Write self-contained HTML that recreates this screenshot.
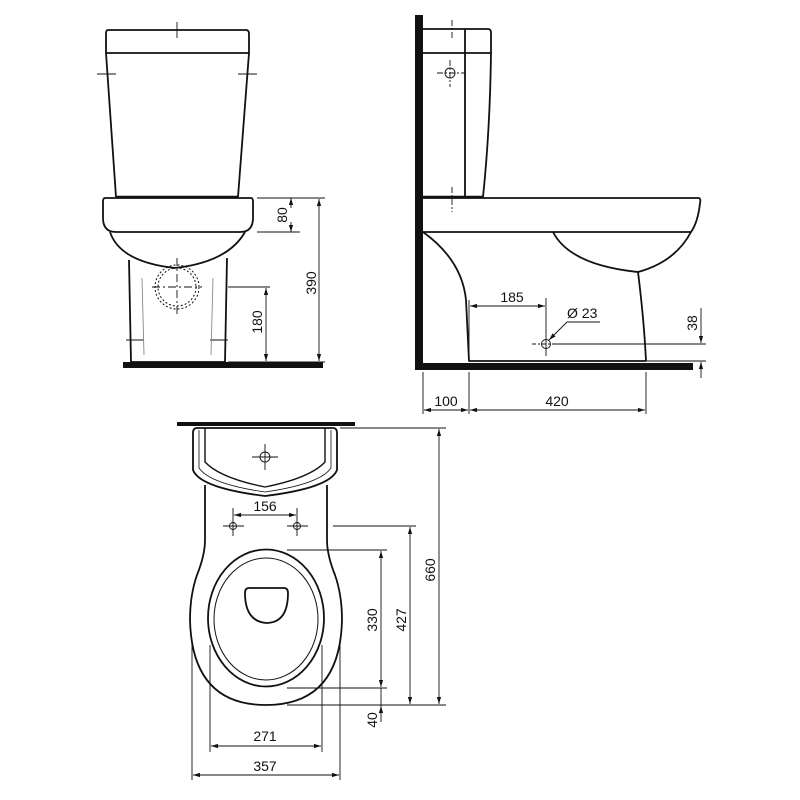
<!DOCTYPE html>
<html><head><meta charset="utf-8"><style>
html,body{margin:0;padding:0;background:#fff;}
svg{display:block}
text{font-family:"Liberation Sans",sans-serif;font-size:14px;fill:#111}
</style></head><body>
<svg width="800" height="800" viewBox="0 0 800 800" xmlns="http://www.w3.org/2000/svg">
<defs>
<marker id="a" viewBox="0 0 10 10" refX="10" refY="5" markerWidth="8" markerHeight="8" orient="auto-start-reverse"><path d="M0,2 L10,5 L0,8 z" fill="#111"/></marker>
</defs>
<g fill="none" stroke="#111" stroke-width="1.8" stroke-linejoin="round">
<!-- FRONT VIEW -->
<path d="M108,30 H246 Q249,30 249,34 V53 H106 V34 Q106,30 108,30 z"/>
<path d="M106,53 L116,197 M249,53 L238,197"/>
<line x1="116" y1="197" x2="238" y2="197" stroke-width="2.5"/>
<path d="M105,198 H251 Q253,198 253,202 V218 Q253,232 240,232 H116 Q103,232 103,218 V202 Q103,198 105,198 z"/>
<path d="M110,232 Q120,262 175,268 Q228,262 245,232"/>
<path d="M129,260 L131,362 M227,258 L225,362"/>
<line x1="131" y1="362" x2="225" y2="362"/>
</g>
<rect x="123" y="362" width="200" height="6" fill="#111"/>
<g fill="none" stroke="#111" stroke-width="1" stroke-dasharray="2,2">
<circle cx="177" cy="287" r="19"/><circle cx="177" cy="287" r="22"/>
</g>
<g stroke="#111" stroke-width="0.9" fill="none">
<path d="M177,258 V315 M152,287 H202" stroke-dasharray="8,3,2,3"/>
<path d="M177,22 V38 M97,74 H116 M238,74 H257 M126,340 H144 M210,340 H228"/>
<path d="M142,278 L144,355 M213,278 L211,355" stroke="#888"/>
<path d="M257,198 H325 M257,232 H300 M228,287 H270 M228,362 H325"/>
<line x1="291" y1="208" x2="291" y2="198" marker-end="url(#a)"/>
<line x1="291" y1="222" x2="291" y2="232" marker-end="url(#a)"/>
<line x1="319" y1="199" x2="319" y2="361" marker-start="url(#a)" marker-end="url(#a)"/>
<line x1="266" y1="288" x2="266" y2="361" marker-start="url(#a)" marker-end="url(#a)"/>
</g>
<text transform="translate(287,215) rotate(-90)" text-anchor="middle">80</text>
<text transform="translate(316,283) rotate(-90)" text-anchor="middle">390</text>
<text transform="translate(262,322) rotate(-90)" text-anchor="middle">180</text>

<!-- SIDE VIEW -->
<rect x="415" y="15" width="8" height="355" fill="#111"/>
<rect x="415" y="363" width="278" height="7" fill="#111"/>
<g fill="none" stroke="#111" stroke-width="1.8" stroke-linejoin="round">
<path d="M423,29 H488 Q491,29 491,33 V53 H423"/>
<path d="M491,53 Q490,130 483,197 M465,29 V197"/>
<line x1="423" y1="197" x2="483" y2="197" stroke-width="2.5"/>
<path d="M423,198 H699 Q701,199 700,203 Q698,222 691,232 H423"/>
<path d="M553,232 Q570,265 638,272 Q675,262 691,232"/>
<path d="M638,272 Q644,320 646,361"/>
<path d="M423,232 Q462,260 466,300 Q468,340 469,361 H646"/>
</g>
<g stroke="#111" stroke-width="0.9" fill="none">
<circle cx="450" cy="73" r="5"/>
<path d="M437,73 H465 M450,60 V87 M452,20 V38 M452,187 V212" stroke-dasharray="6,2,2,2"/>
<circle cx="546" cy="344" r="4.5"/>
<path d="M532,344 H556" stroke-dasharray="4,2,2,2"/>
<path d="M546,298 V356 M469,300 V361"/>
<path d="M556,344 H706 M646,361 H706"/>
<line x1="470" y1="306" x2="545" y2="306" marker-start="url(#a)" marker-end="url(#a)"/>
<path d="M567,322 H600"/>
<line x1="567" y1="322" x2="549" y2="340" marker-end="url(#a)"/>
<line x1="701" y1="308" x2="701" y2="343" marker-end="url(#a)"/>
<line x1="701" y1="378" x2="701" y2="362" marker-end="url(#a)"/>
<path d="M423,372 V414 M469,372 V414 M646,372 V414"/>
<line x1="424" y1="410" x2="468" y2="410" marker-start="url(#a)" marker-end="url(#a)"/>
<line x1="470" y1="410" x2="645" y2="410" marker-start="url(#a)" marker-end="url(#a)"/>
</g>
<text x="512" y="302" text-anchor="middle">185</text>
<text x="567" y="318">Ø 23</text>
<text transform="translate(697,323) rotate(-90)" text-anchor="middle">38</text>
<text x="446" y="406" text-anchor="middle">100</text>
<text x="557" y="406" text-anchor="middle">420</text>

<!-- TOP VIEW -->
<rect x="177" y="422" width="178" height="4" fill="#111"/>
<g fill="none" stroke="#111" stroke-width="1.8" stroke-linejoin="round">
<path d="M197,428 H333 Q337,428 337,433 V470 Q330,488 265,496 Q200,488 193,470 V433 Q193,428 197,428 z"/>
<path d="M199,430 V468 Q210,484 265,492 Q320,484 331,468 V430" stroke-width="0.8"/>
<path d="M205,428 V462 Q220,478 265,487 Q310,478 325,462 V428" stroke-width="1.4"/>
<path d="M205,485 V540 Q205,555 197,575 Q190,595 190,620 Q192,705 266,705 Q340,705 342,620 Q342,595 335,575 Q327,555 327,540 V485"/>
<ellipse cx="266" cy="618" rx="58" ry="68.5"/>
<ellipse cx="266" cy="619" rx="52" ry="61" stroke-width="1"/>
<path d="M249,588 H284 Q288,588 288,593 Q288,623 266,623 Q245,621 245,593 Q245,588 249,588 z"/>
</g>
<g stroke="#111" stroke-width="0.9" fill="none">
<circle cx="265" cy="457" r="5"/>
<path d="M252,457 H278 M265,444 V470"/>
<circle cx="233" cy="526" r="3.5"/><circle cx="297" cy="526" r="3.5"/>
<path d="M223,526 H244 M287,526 H308 M233,508 V536 M297,508 V536"/>
<line x1="234" y1="515" x2="296" y2="515" marker-start="url(#a)" marker-end="url(#a)"/>
<path d="M340,428 H446 M333,526 H416 M287,550 H387 M287,688 H387 M287,705 H446"/>
<line x1="381" y1="551" x2="381" y2="687" marker-start="url(#a)" marker-end="url(#a)"/>
<line x1="410" y1="527" x2="410" y2="704" marker-start="url(#a)" marker-end="url(#a)"/>
<line x1="439" y1="429" x2="439" y2="704" marker-start="url(#a)" marker-end="url(#a)"/>
<line x1="381" y1="722" x2="381" y2="706" marker-end="url(#a)"/>
<path d="M381,688 V706"/>
<path d="M192,645 V780 M210,645 V752 M322,645 V752 M340,645 V780"/>
<line x1="211" y1="746" x2="321" y2="746" marker-start="url(#a)" marker-end="url(#a)"/>
<line x1="193" y1="775" x2="339" y2="775" marker-start="url(#a)" marker-end="url(#a)"/>
</g>
<text x="265" y="511" text-anchor="middle">156</text>
<text transform="translate(377,620) rotate(-90)" text-anchor="middle">330</text>
<text transform="translate(406,620) rotate(-90)" text-anchor="middle">427</text>
<text transform="translate(435,570) rotate(-90)" text-anchor="middle">660</text>
<text transform="translate(377,720) rotate(-90)" text-anchor="middle">40</text>
<text x="265" y="741" text-anchor="middle">271</text>
<text x="265" y="771" text-anchor="middle">357</text>
</svg>
</body></html>
